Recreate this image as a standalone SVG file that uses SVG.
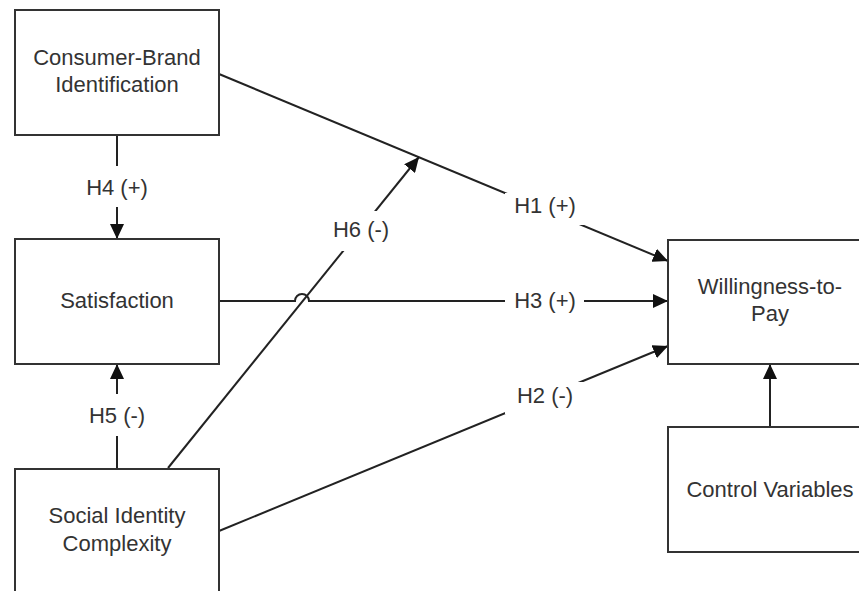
<svg xmlns="http://www.w3.org/2000/svg" width="859" height="591" viewBox="0 0 859 591">
<defs>
<style>
.box{fill:#fff;stroke:#333;stroke-width:2}
.t{font-family:"Liberation Sans",Arial,sans-serif;font-size:22px;fill:#333;text-anchor:middle}
.c{fill:none;stroke:#222;stroke-width:2}
.bg{fill:#fff;stroke:none}
</style>
<marker id="ah" markerUnits="userSpaceOnUse" markerWidth="16" markerHeight="14" viewBox="0 0 16 14" refX="15" refY="7" orient="auto">
<path d="M0,0 L15,7 L0,14 Z" fill="#111"/>
</marker>
</defs>
<rect width="859" height="591" fill="#fff"/>
<g id="connectors">
<path class="c" d="M219,74 L668,261" marker-end="url(#ah)"/>
<path class="c" d="M219,301 H295 a7,7 0 0 1 14,0 H668" marker-end="url(#ah)"/>
<path class="c" d="M219,531 L668,346" marker-end="url(#ah)"/>
<path class="c" d="M168,468 L419,157" marker-end="url(#ah)"/>
<path class="c" d="M117,135 V239" marker-end="url(#ah)"/>
<path class="c" d="M117,469 V364" marker-end="url(#ah)"/>
<path class="c" d="M770,427 V364" marker-end="url(#ah)"/>
<rect class="bg" x="505" y="193" width="79" height="32"/>
<text class="t" x="545" y="213">H1 (+)</text>
<rect class="bg" x="505" y="288" width="79" height="26"/>
<text class="t" x="545" y="308">H3 (+)</text>
<rect class="bg" x="505" y="382" width="79" height="32"/>
<text class="t" x="545" y="403">H2 (-)</text>
<rect class="bg" x="330" y="211" width="62" height="40"/>
<text class="t" x="361" y="237">H6 (-)</text>
<rect class="bg" x="85" y="166" width="64" height="41"/>
<text class="t" x="117" y="195">H4 (+)</text>
<rect class="bg" x="85" y="394" width="64" height="42"/>
<text class="t" x="117" y="423">H5 (-)</text>
</g>
<g id="node-cbi">
<rect class="box" x="15" y="10" width="204" height="125"/>
<text class="t" x="117" y="65">Consumer-Brand</text>
<text class="t" x="117" y="92">Identification</text>
</g>
<g id="node-satisfaction">
<rect class="box" x="15" y="239" width="204" height="125"/>
<text class="t" x="117" y="308">Satisfaction</text>
</g>
<g id="node-sic">
<rect class="box" x="15" y="469" width="204" height="125"/>
<text class="t" x="117" y="523">Social Identity</text>
<text class="t" x="117" y="551">Complexity</text>
</g>
<g id="node-wtp">
<rect class="box" x="668" y="240" width="204" height="124"/>
<text class="t" x="770" y="294">Willingness-to-</text>
<text class="t" x="770" y="321">Pay</text>
</g>
<g id="node-control">
<rect class="box" x="668" y="427" width="204" height="125"/>
<text class="t" x="770" y="497">Control Variables</text>
</g>
</svg>
